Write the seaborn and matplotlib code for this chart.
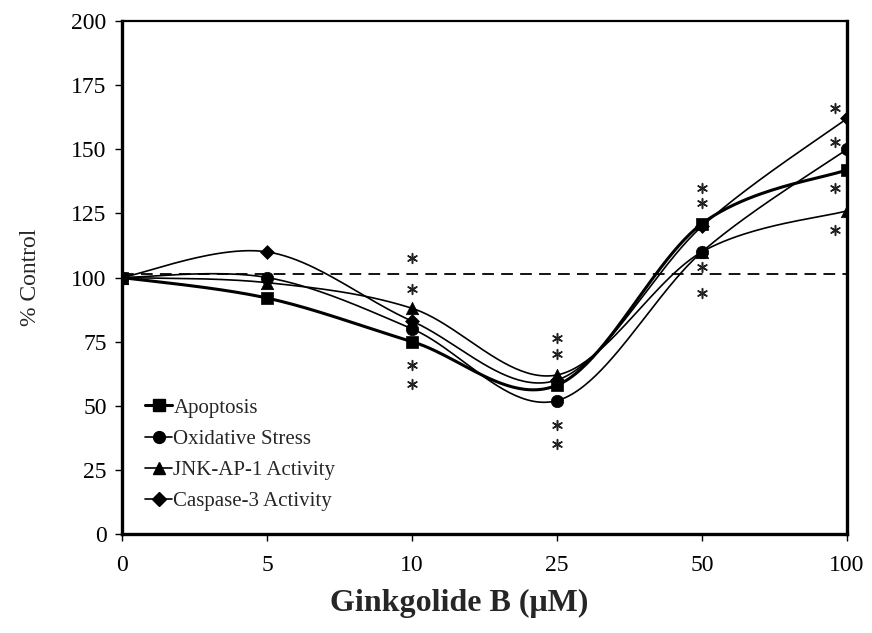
import numpy as np
import pandas as pd
import matplotlib
matplotlib.use("Agg")
import matplotlib.pyplot as plt
from matplotlib.lines import Line2D
import seaborn as sns

# Ginkgolide B concentrations (µM), shown as evenly spaced categories
doses = ["0", "5", "10", "25", "50", "100"]

# % of control for each endpoint
apoptosis = [100, 92, 75, 58, 121, 142]
oxidative_stress = [100, 100, 80, 52, 110, 150]
jnk_ap1 = [100, 98, 88, 62, 110, 126]
caspase3 = [100, 110, 83, 60, 120, 162]

series_names = ["Apoptosis", "Oxidative Stress", "JNK-AP-1 Activity", "Caspase-3 Activity"]
series_values = [apoptosis, oxidative_stress, jnk_ap1, caspase3]

# significance asterisks: heights (% control) above/below each dose
sig_10 = [107.5, 95.5, 66, 58.5]
sig_25 = [76.5, 70, 42.5, 35]
sig_50 = [135, 129, 104, 94]
sig_100 = [166, 153, 135, 118.5]

control_level = 101.5

sns.set_style("ticks")
plt.rcParams["font.family"] = ["Liberation Serif", "DejaVu Serif"]


def smooth_path(xs, ys, n=50):
    """Cardinal (Catmull-Rom style) Bezier smoothing through the points."""
    pts = np.column_stack([xs, ys]).astype(float)
    padded = np.vstack([pts[0], pts, pts[-1]])
    out = []
    t = np.linspace(0, 1, n)[:, None]
    for i in range(len(pts) - 1):
        p0, p1, p2, p3 = padded[i], padded[i + 1], padded[i + 2], padded[i + 3]
        c1 = p1 + (p2 - p0) / 6.0
        c2 = p2 - (p3 - p1) / 6.0
        seg = ((1 - t) ** 3) * p1 + 3 * ((1 - t) ** 2) * t * c1 + 3 * (1 - t) * t ** 2 * c2 + t ** 3 * p2
        out.append(seg if i == 0 else seg[1:])
    return np.vstack(out)


fig = plt.figure(figsize=(8.72, 6.33), dpi=100)
ax = fig.add_axes([122 / 872, 1 - 534 / 633, 725 / 872, 513 / 633])

markers = {"Apoptosis": "s", "Oxidative Stress": "o",
           "JNK-AP-1 Activity": "^", "Caspase-3 Activity": "D"}
msizes = {"Apoptosis": 78, "Oxidative Stress": 80,
          "JNK-AP-1 Activity": 80, "Caspase-3 Activity": 50}
lwidths = {"Apoptosis": 2.2, "Oxidative Stress": 1.2,
           "JNK-AP-1 Activity": 1.2, "Caspase-3 Activity": 1.2}

xpos = np.arange(len(doses))
rows = []
for name, vals in zip(series_names, series_values):
    for x, v in zip(xpos, vals):
        rows.append({"dose": x, "value": v, "series": name})
df = pd.DataFrame(rows)

# reference line at control level
ax.axhline(control_level, color="black", lw=1.3, ls=(0, (6.5, 4)), zorder=1)

# smoothed curves
for name, vals in zip(series_names, series_values):
    path = smooth_path(xpos, vals)
    ax.plot(path[:, 0], path[:, 1], color="black", lw=lwidths[name], zorder=2,
            solid_capstyle="round")

# point markers
for name in series_names:
    sub = df[df["series"] == name]
    sns.scatterplot(data=sub, x="dose", y="value", marker=markers[name],
                    s=msizes[name], color="black", edgecolor="black",
                    linewidth=0.5, ax=ax, zorder=3, legend=False)

# significance asterisks
sig_x = []
sig_y = []
for idx, heights, dx in [(2, sig_10, 0.0), (3, sig_25, 0.0),
                         (4, sig_50, 0.0), (5, sig_100, -0.083)]:
    for h in heights:
        sig_x.append(idx + dx)
        sig_y.append(h)
sns.scatterplot(x=sig_x, y=sig_y, marker=(6, 2, 0), s=50, color="#222222",
                linewidth=1.1, ax=ax, zorder=4, legend=False)

ax.set_xlim(0, len(doses) - 1)
ax.set_ylim(0, 200)
ax.set_xticks(xpos)
ax.set_xticklabels(doses)
ax.set_yticks(np.arange(0, 201, 25))

ax.tick_params(axis="both", labelsize=17, colors="black", direction="out",
               length=5, width=1.0)
ax.tick_params(axis="x", pad=10)
ax.tick_params(axis="y", pad=6)

for side in ["left", "bottom", "right"]:
    ax.spines[side].set_linewidth(2.4)
    ax.spines[side].set_color("black")
ax.spines["top"].set_linewidth(1.6)
ax.spines["top"].set_color("black")
ax.spines["top"].set_visible(True)
ax.spines["right"].set_visible(True)

ax.set_ylabel("% Control", fontsize=17)
ax.yaxis.set_label_coords(-0.112, 0.5)
ax.set_xlabel("Ginkgolide B (μM)", fontsize=23, fontweight="bold")
ax.xaxis.set_label_coords(0.465, -0.108)

handles = [Line2D([0], [0], color="black", lw=lwidths[n], marker=markers[n],
                  markersize=8.5 if n != "Caspase-3 Activity" else 7)
           for n in series_names]
ax.legend(handles, series_names, loc="lower left", bbox_to_anchor=(0.032, 0.045),
          frameon=False, fontsize=15, handlelength=1.3, handletextpad=0.05,
          labelspacing=0.55, borderpad=0, borderaxespad=0)

fig.savefig("out.png", dpi=100)
